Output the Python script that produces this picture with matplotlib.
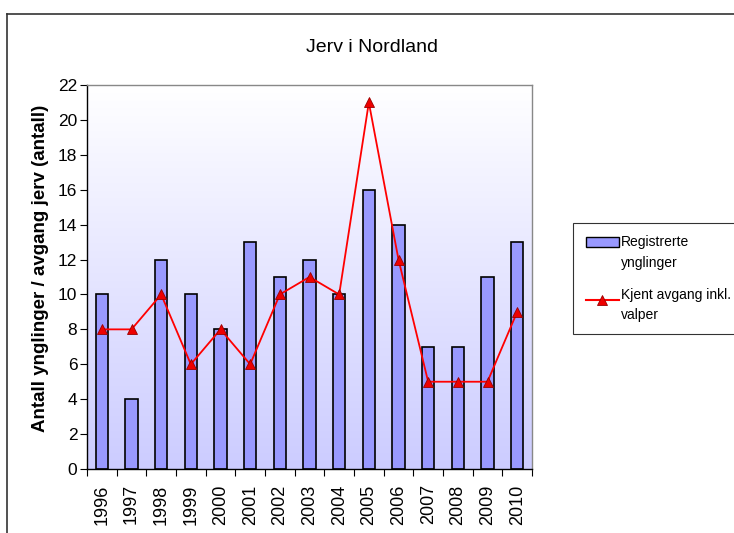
#!/usr/bin/env python3
import numpy as np
import matplotlib
matplotlib.use('Agg')
import matplotlib.pyplot as plt
from matplotlib.lines import Line2D
import matplotlib.patches as mpatches
from matplotlib.legend_handler import HandlerPatch, HandlerLine2D

plt.rcParams['font.family'] = ['Liberation Sans', 'DejaVu Sans']

# Data
years = ['1996', '1997', '1998', '1999', '2000', '2001', '2002', '2003',
         '2004', '2005', '2006', '2007', '2008', '2009', '2010']
ynglinger = [10, 4, 12, 10, 8, 13, 11, 12, 10, 16, 14, 7, 7, 11, 13]
avgang = [8, 8, 10, 6, 8, 6, 10, 11, 10, 21, 12, 5, 5, 5, 9]

W, H = 734, 533
LEG_SHIFT = 8  # points, lifts legend keys to the first text line


class UpPatch(HandlerPatch):
    def adjust_drawing_area(self, *args):
        xd, yd, w, h = super().adjust_drawing_area(*args)
        return xd, yd - LEG_SHIFT, w, h


class UpLine(HandlerLine2D):
    def adjust_drawing_area(self, *args):
        xd, yd, w, h = super().adjust_drawing_area(*args)
        return xd, yd - LEG_SHIFT, w, h


fig = plt.figure(figsize=(W / 100, H / 100), dpi=100)

# Outer chart frame (extends past the right and bottom edges)
fig.add_artist(Line2D([7 / W, 1.0], [1 - 14 / H, 1 - 14 / H], color='#333333', lw=1.2))
fig.add_artist(Line2D([7 / W, 7 / W], [0.0, 1 - 14 / H], color='#333333', lw=1.2))

left, right, top, bottom = 87, 532, 85, 469
ax = fig.add_axes([left / W, 1 - bottom / H, (right - left) / W, (bottom - top) / H])

# Gradient background, white at top to lavender at bottom
grad = np.linspace(0, 1, 256).reshape(-1, 1)
top_c = np.array([1.0, 1.0, 1.0])
bot_c = np.array([0.80, 0.80, 1.0])
img = top_c * (1 - grad[..., None]) + bot_c * grad[..., None]
ax.imshow(img, extent=[0, 1, 0, 1], transform=ax.transAxes, aspect='auto', zorder=0)

x = np.arange(len(years))
ax.bar(x, ynglinger, width=0.42, color='#9999FF', edgecolor='black', linewidth=1.2, zorder=2)
ax.plot(x, avgang, color='#FF0000', linewidth=1.3, marker='^', markersize=7,
        markerfacecolor='#EE0000', markeredgecolor='#990000', markeredgewidth=0.6, zorder=3)

ax.set_xlim(-0.5, len(years) - 0.5)
ax.set_ylim(0, 22)
ax.set_yticks(range(0, 23, 2))
ax.set_xticks(np.arange(-0.5, len(years), 1.0))
ax.set_xticklabels([])
ax.set_xticks(x, minor=True)
ax.set_xticklabels(years, minor=True, rotation=90, fontsize=13)
ax.tick_params(axis='x', which='minor', length=0, pad=11)
ax.tick_params(axis='x', which='major', length=5, direction='out', width=0.8)
ax.tick_params(axis='y', length=5, direction='out', width=0.8, labelsize=12.5, pad=2)

for side in ['top', 'right']:
    ax.spines[side].set_color('#888888')
    ax.spines[side].set_linewidth(1.0)
for side in ['left', 'bottom']:
    ax.spines[side].set_color('black')
    ax.spines[side].set_linewidth(1.0)

fig.text(372 / W, 1 - 47 / H, 'Jerv i Nordland', ha='center', va='center', fontsize=14)
fig.text(41 / W, 1 - 268 / H, 'Antall ynglinger / avgang jerv (antall)', rotation=90,
         ha='center', va='center', fontsize=13.5, fontweight='bold')

bar_handle = mpatches.Patch(facecolor='#9999FF', edgecolor='black', label='Registrerte\nynglinger')
line_handle = Line2D([], [], color='#FF0000', marker='^', markersize=7, markerfacecolor='#EE0000',
                     markeredgecolor='#990000', markeredgewidth=0.6,
                     label='Kjent avgang inkl.\nvalper')
leg = fig.legend(handles=[bar_handle, line_handle], loc='upper left',
                 bbox_to_anchor=(573 / W, 1 - 223 / H),
                 handler_map={bar_handle: UpPatch(), line_handle: UpLine()},
                 frameon=True, fancybox=False, edgecolor='black', fontsize=10,
                 handlelength=2.4, handletextpad=0.15, labelspacing=1.3,
                 borderpad=0.9, borderaxespad=0)
for t in leg.get_texts():
    t.set_linespacing(1.55)
leg.get_frame().set_linewidth(0.8)

fig.savefig('out.png', dpi=100)
